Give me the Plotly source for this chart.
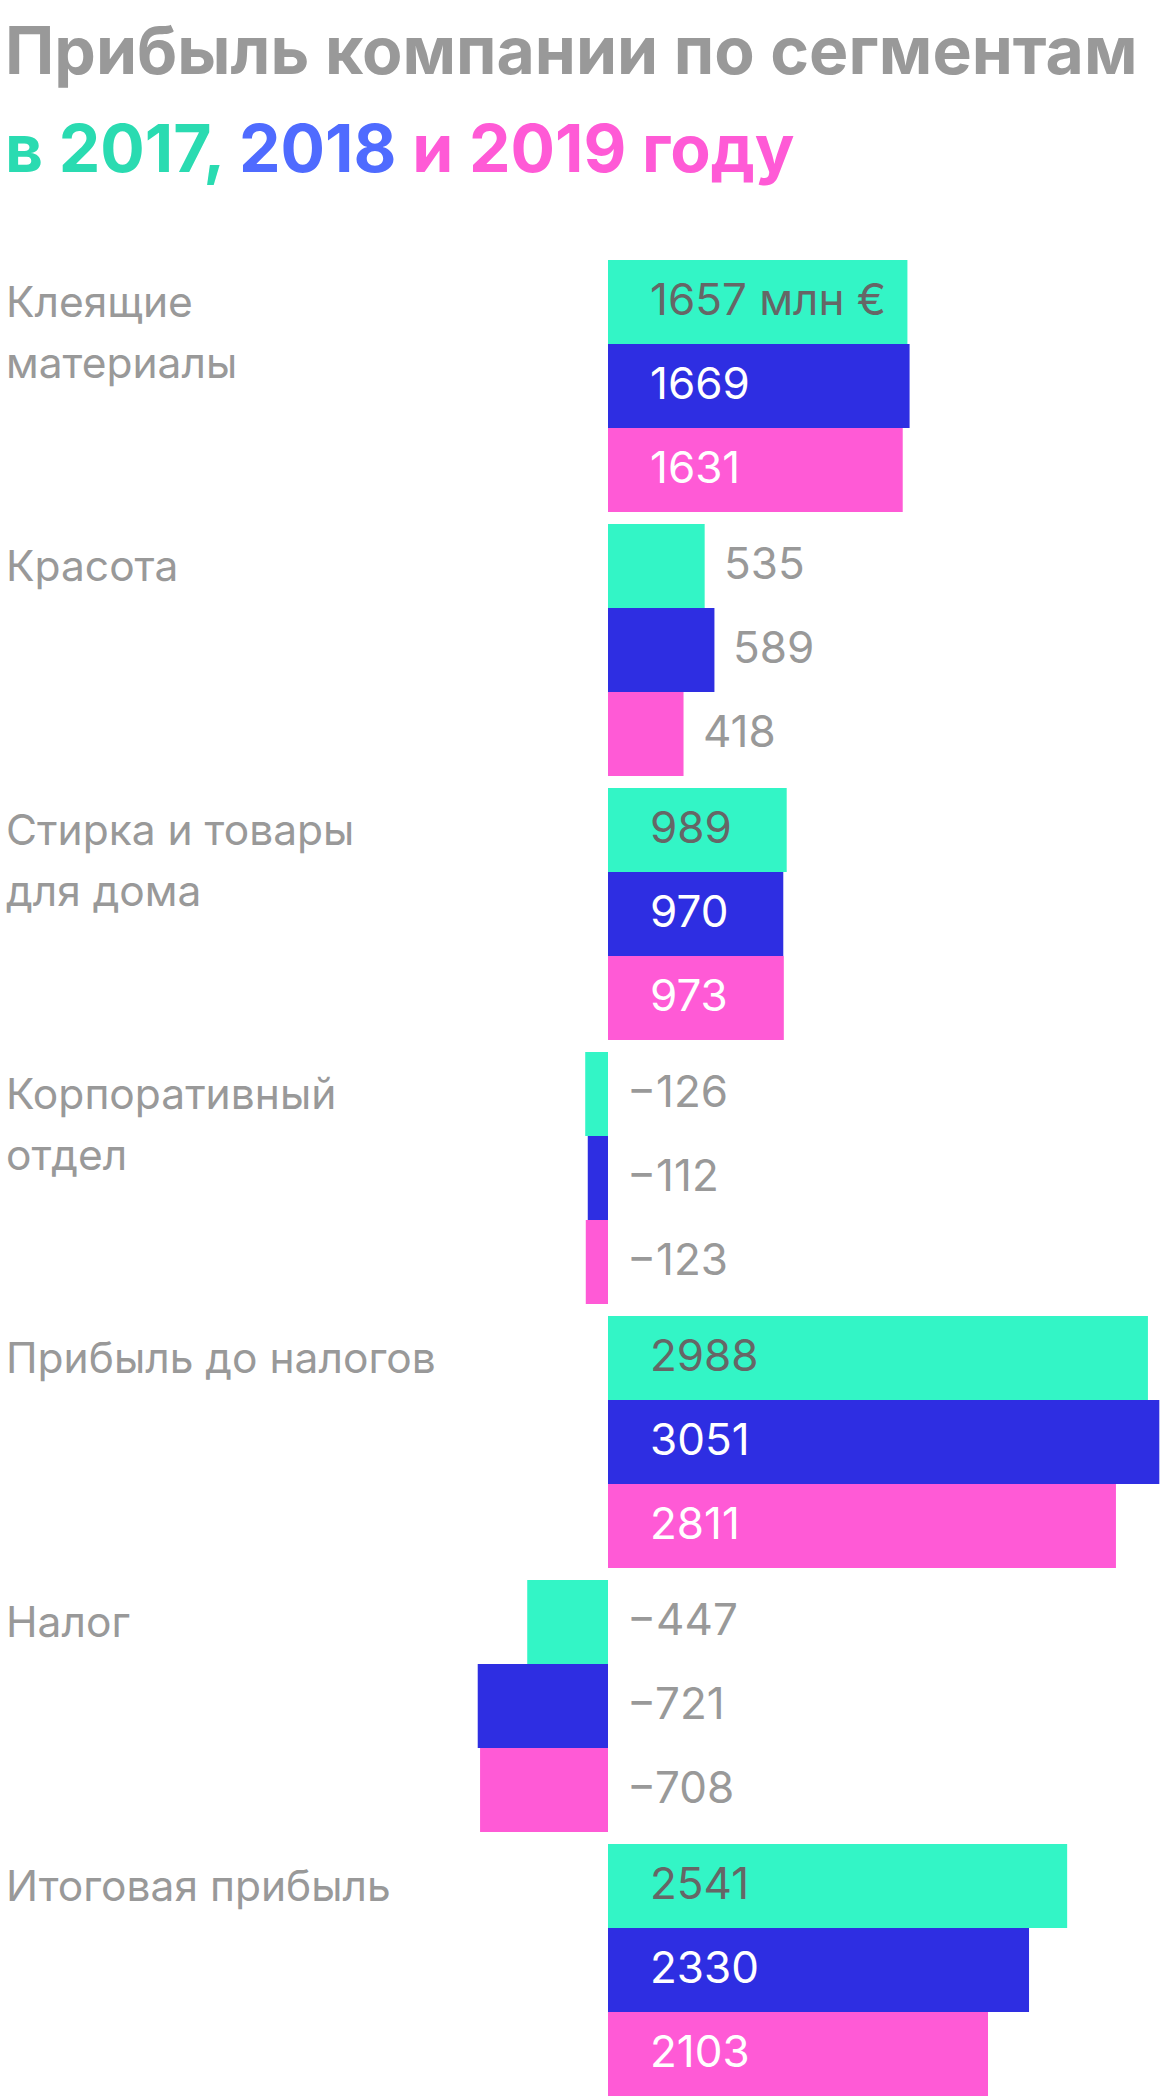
import plotly.graph_objects as go

# ---- data ----
categories = ["Клеящие<br>материалы", "Красота", "Стирка и товары<br>для дома",
              "Корпоративный<br>отдел", "Прибыль до налогов", "Налог", "Итоговая прибыль"]
years = ["2017", "2018", "2019"]
values_2017 = [1657, 535, 989, -126, 2988, -447, 2541]
values_2018 = [1669, 589, 970, -112, 3051, -721, 2330]
values_2019 = [1631, 418, 973, -123, 2811, -708, 2103]
unit_suffix = " млн €"

# ---- style ----
W, H = 1160, 2096
bar_colors = ["#33F5C6", "#2E2EE2", "#FF5AD6"]
inside_text_colors = ["#666666", "#FFFFFF", "#FFFFFF"]
title_colors = {"2017": "#2ADBB1", "2018": "#4F6BFF", "2019": "#FF5AD6"}
gray = "#999999"
FONT = "Inter"

zero_px = 608            # pixel of zero line
px_per_unit = 0.1807
plot_top = 254
group_px = 264
bar_px = 84
bw = bar_px / group_px

x_min = -zero_px / px_per_unit
x_max = (W - zero_px) / px_per_unit
y_span = (H - plot_top) / group_px

series = [values_2017, values_2018, values_2019]
n = len(categories)

fig = go.Figure()
annotations = []
for k, vals in enumerate(series):
    ys = [i + (k - 1) * bw for i in range(n)]
    fig.add_trace(go.Bar(
        x=vals, y=ys, orientation="h", width=bw,
        marker=dict(color=bar_colors[k], line=dict(width=0)),
        hoverinfo="skip", showlegend=False,
    ))
    for i, v in enumerate(vals):
        txt = f"{v}" if v >= 0 else f"\u2212{abs(v)}"
        if i == 0 and k == 0:
            txt += unit_suffix
        if v < 0:
            x, shift, col = 0, 17, gray
        elif v < 700:
            x, shift, col = v, 17, gray
        else:
            x, shift, col = 0, 40, inside_text_colors[k]
        annotations.append(dict(
            x=x, y=ys[i], xref="x", yref="y", text=txt, showarrow=False,
            xanchor="left", yanchor="middle", xshift=shift, yshift=3,
            font=dict(family=FONT, size=44, color=col),
        ))

# category labels (line by line)
for i, cat in enumerate(categories):
    for j, line in enumerate(cat.split("<br>")):
        annotations.append(dict(
            x=0, xref="paper", y=i - bw, yref="y", text=line, showarrow=False,
            xanchor="left", yanchor="middle", xshift=4, yshift=1 - 61 * j,
            font=dict(family=FONT, size=42.5, color=gray),
        ))

# title
title1 = "Прибыль компании по сегментам"
title2 = (f"<span style='color:{title_colors['2017']}'>в 2017,</span> "
          f"<span style='color:{title_colors['2018']}'>2018</span> "
          f"<span style='color:{title_colors['2019']}'>и 2019 году</span>")
annotations.append(dict(x=0, xref="paper", y=1, yref="paper", text=f"<b>{title1}</b>",
                        showarrow=False, xanchor="left", yanchor="middle",
                        xshift=3, yshift=204,
                        font=dict(family=FONT, size=66, color=gray)))
annotations.append(dict(x=0, xref="paper", y=1, yref="paper", text=f"<b>{title2}</b>",
                        showarrow=False, xanchor="left", yanchor="middle",
                        xshift=3, yshift=106,
                        font=dict(family=FONT, size=66, color=gray)))

fig.update_layout(
    width=W, height=H,
    margin=dict(l=0, r=0, t=plot_top, b=0, pad=0),
    paper_bgcolor="white", plot_bgcolor="white",
    barmode="overlay",
    xaxis=dict(range=[x_min, x_max], visible=False, fixedrange=True),
    yaxis=dict(range=[y_span - 0.5, -0.5], visible=False, fixedrange=True),
    annotations=annotations,
    font=dict(family=FONT),
)

fig.write_html("out.html", config={"displayModeBar": False},
               post_script="document.body.style.margin='0';document.body.style.overflow='hidden';")
